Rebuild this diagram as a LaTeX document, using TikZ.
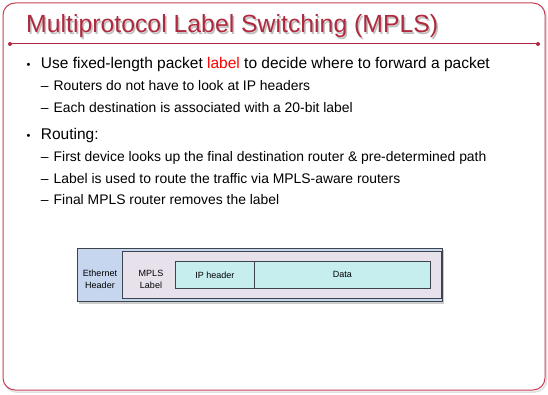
\documentclass[tikz,border=0pt]{standalone}
\usepackage{fontspec}
\setmainfont{Liberation Sans}
\definecolor{framered}{HTML}{C94056}
\definecolor{titlered}{HTML}{B02A3F}
\definecolor{ethblue}{HTML}{C5D6EE}
\definecolor{mplslav}{HTML}{E7E1EC}
\definecolor{ipcyan}{HTML}{C6EEEE}
\definecolor{boxgray}{HTML}{3C434B}
\tikzset{
  bullet/.style={anchor=base west, inner sep=0, font=\fontsize{15.5}{18}\selectfont},
  subbullet/.style={anchor=base west, inner sep=0, font=\fontsize{13.9}{16}\selectfont},
  pktbox/.style={draw=boxgray, line width=0.8pt, anchor=north west, inner sep=0},
  pkttext/.style={align=center, font=\fontsize{9}{12}\selectfont, inner sep=0}
}
\begin{document}
\begin{tikzpicture}[x=1pt,y=-1pt]
\useasboundingbox (0,0) rectangle (548,395);
% slide frame
\draw[black!12, line width=1.5pt, rounded corners=12pt] (4.5,5) rectangle (546.5,392);
\draw[framered, fill=white, line width=1pt, rounded corners=12pt] (3,3) rectangle (545,390);
% title
\node[anchor=base west, inner sep=0, black!25, font=\fontsize{24.8}{28}\selectfont] at (27.5,34.5) {Multiprotocol Label Switching (MPLS)};
\node[anchor=base west, inner sep=0, titlered, font=\fontsize{24.8}{28}\selectfont] (title) at (26,33) {Multiprotocol Label Switching (MPLS)};
\draw[titlered, line width=1pt] (10,44) -- (538,44);
\fill[titlered] (10,44) circle (2) (538,44) circle (2);
% bullets
\node[anchor=base west, inner sep=0, font=\fontsize{11}{13}\selectfont] (m1) at (26.5,68.5) {\textbullet};
\node[bullet] (b1) at (40.7,69) {Use fixed-length packet \textcolor{red}{label} to decide where to forward a packet};
\node[subbullet] (d1) at (40.7,90.5) {–};
\node[subbullet] (s1) at (53.5,90.5) {Routers do not have to look at IP headers};
\node[subbullet] (d2) at (40.7,113) {–};
\node[subbullet] (s2) at (53.5,113) {Each destination is associated with a 20-bit label};
\node[anchor=base west, inner sep=0, font=\fontsize{11}{13}\selectfont] (m2) at (26.5,139.5) {\textbullet};
\node[bullet] (b2) at (40.7,140) {Routing:};
\node[subbullet] (d3) at (40.7,162) {–};
\node[subbullet] (s3) at (53.5,162) {First device looks up the final destination router \& pre-determined path};
\node[subbullet] (d4) at (40.7,183.5) {–};
\node[subbullet] (s4) at (53.5,183.5) {Label is used to route the traffic via MPLS-aware routers};
\node[subbullet] (d5) at (40.7,205) {–};
\node[subbullet] (s5) at (53.5,205) {Final MPLS router removes the label};
% packet
\fill[black!20] (79,250) rectangle (444,303.5);
\node[pktbox, fill=ethblue, minimum width=365pt, minimum height=53pt] (eth) at (77,248) {};
\node[pktbox, fill=mplslav, minimum width=319pt, minimum height=47pt] (mpls) at (122,251) {};
\node[pktbox, fill=ipcyan, minimum width=79pt, minimum height=27pt] (ip) at (175,261) {};
\node[pktbox, fill=ipcyan, minimum width=176pt, minimum height=27pt] (data) at (254,261) {};
\node[pkttext] (ethtext) at (100,279.5) {Ethernet\\Header};
\node[pkttext] (mplstext) at (151,279.5) {MPLS\\Label};
\node[pkttext] (iptext) at (ip.center) {IP header};
\node[pkttext] (datatext) at (data.center) {Data};
\end{tikzpicture}
\end{document}
